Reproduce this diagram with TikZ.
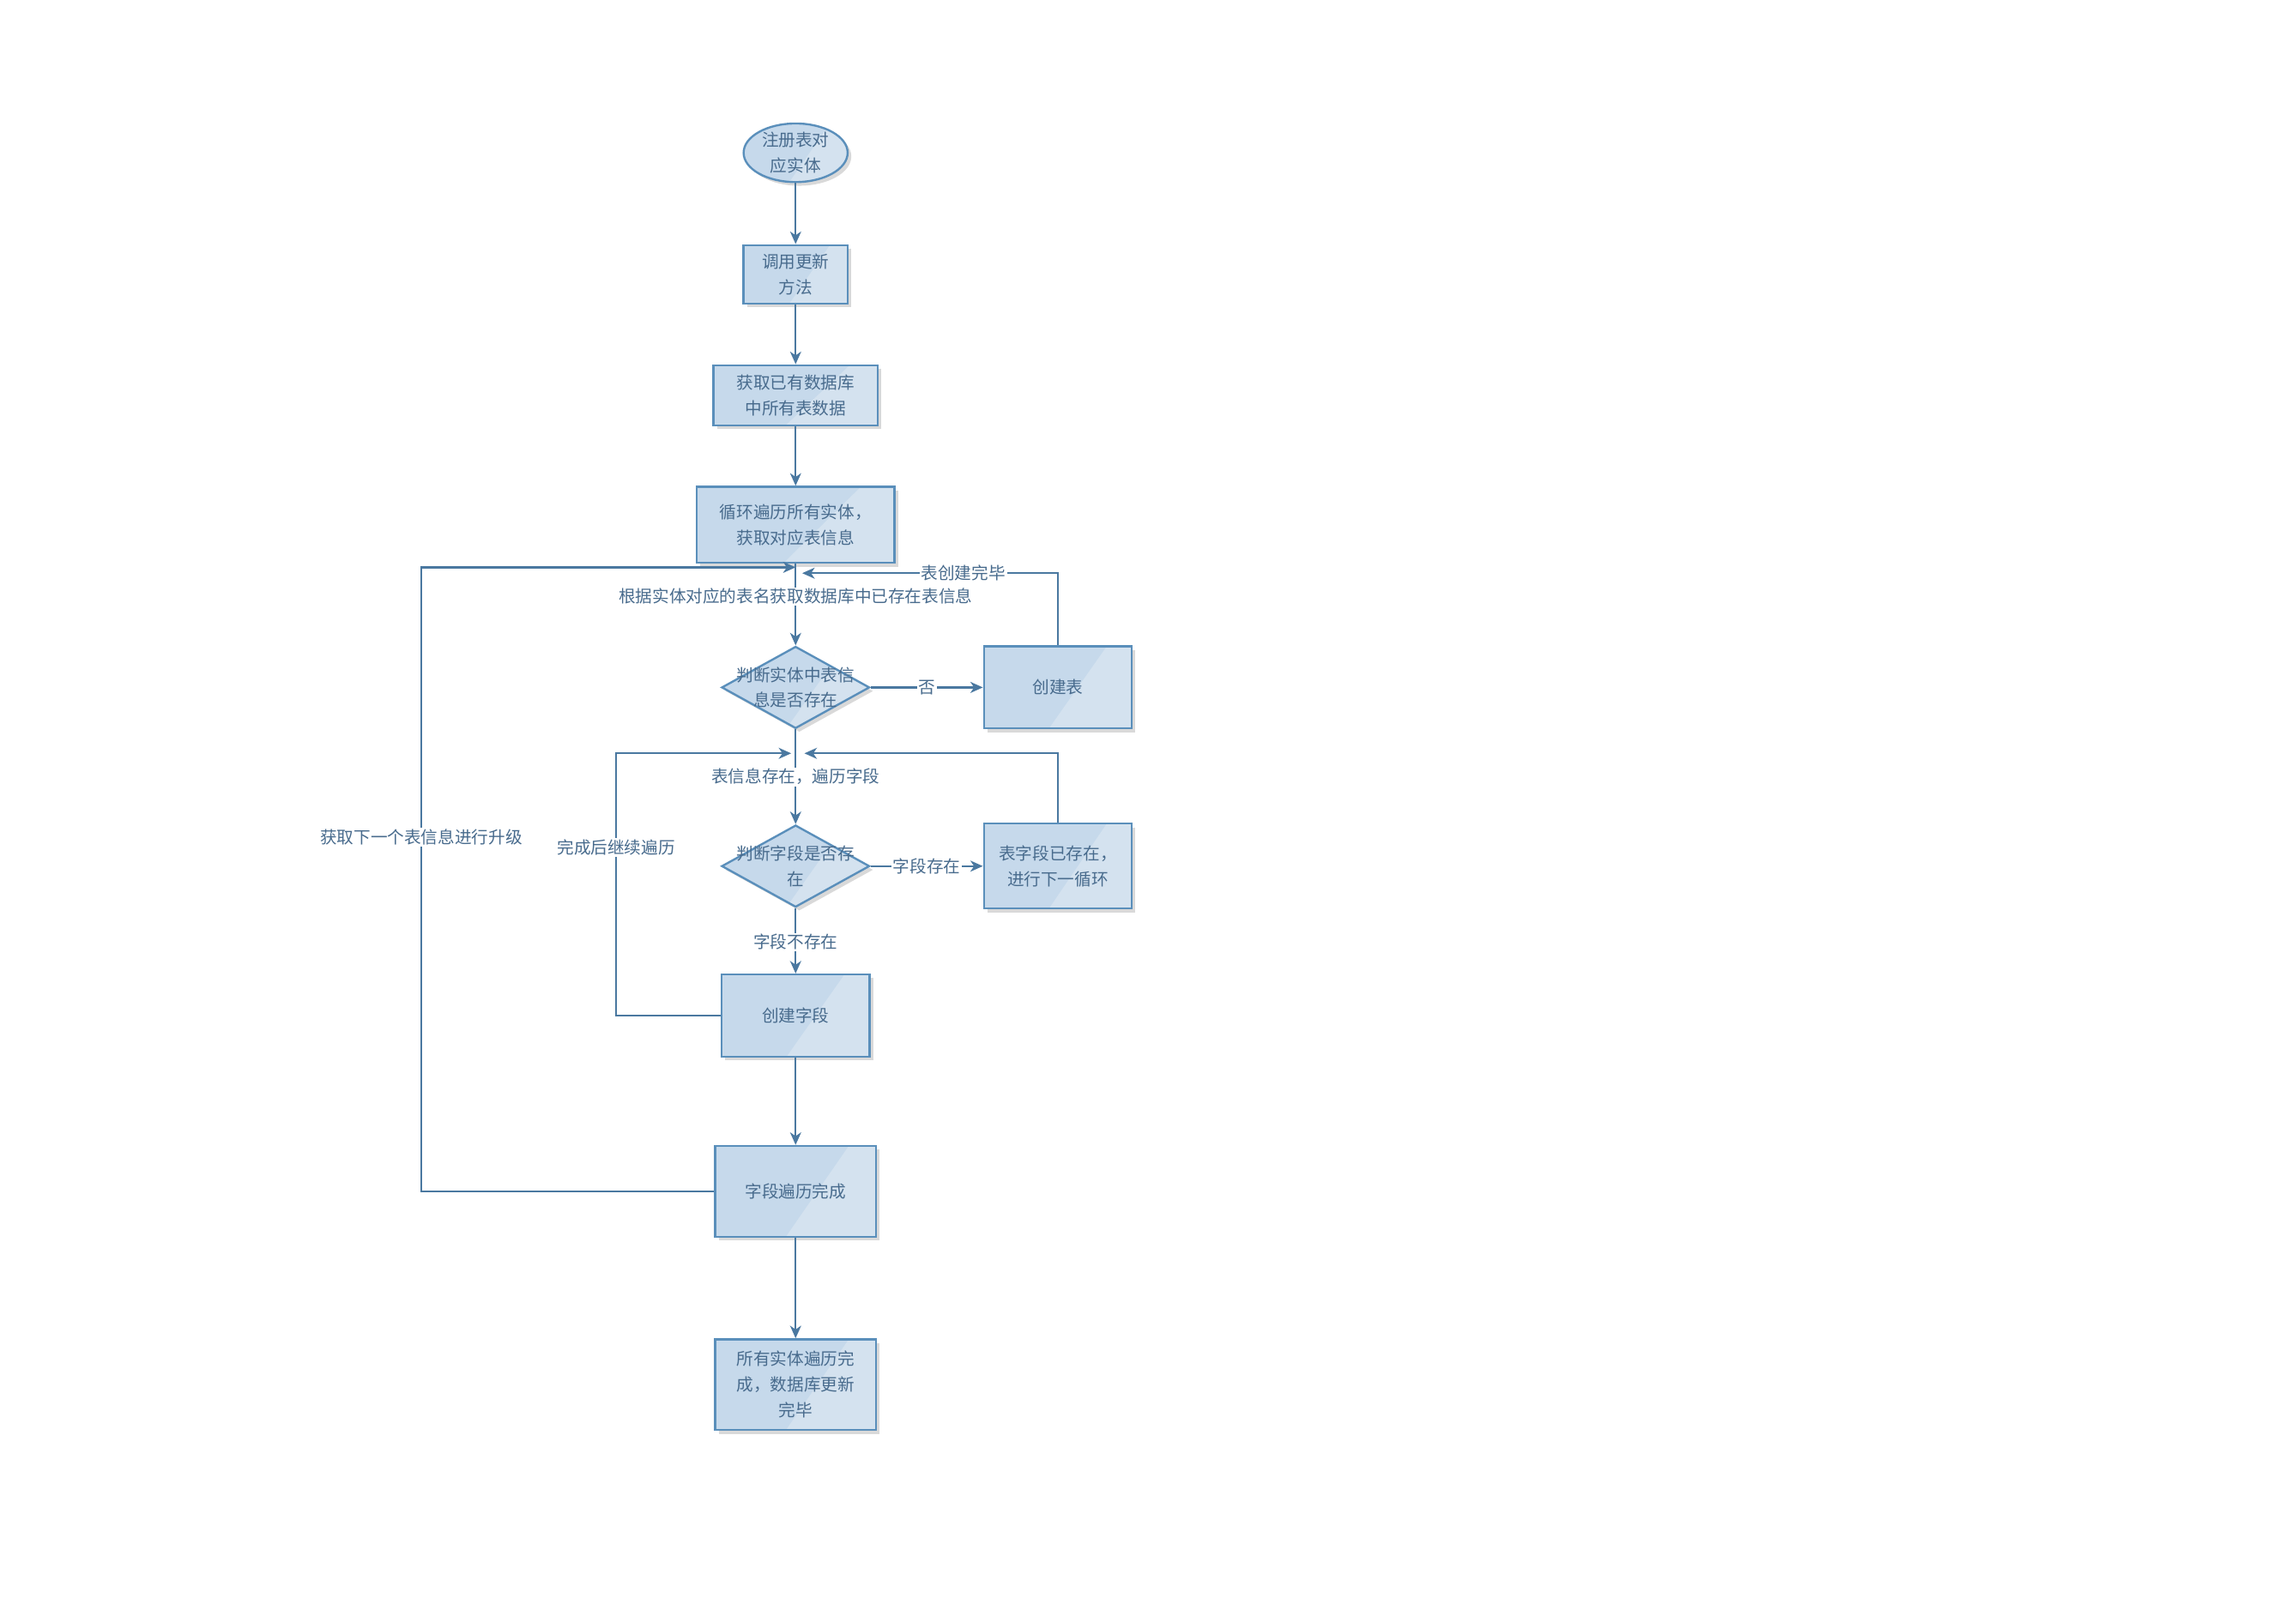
\documentclass[tikz,border=0pt]{standalone}
\usepackage{fontspec}
\newfontfamily\cjk{Noto Sans CJK SC}
\usetikzlibrary{shapes.geometric,arrows.meta,shadows,calc}
\definecolor{fillc}{HTML}{C6D9EB}
\definecolor{lightc}{HTML}{D4E2EF}
\definecolor{bordc}{HTML}{5A8FBB}
\definecolor{linec}{HTML}{4A78A0}
\definecolor{textc}{HTML}{486B8D}
\tikzset{
  gloss/.style={path picture={\fill[lightc]
      ($(path picture bounding box.north west)!0.83!(path picture bounding box.north east)$)
      -- (path picture bounding box.north east)
      -- (path picture bounding box.south east)
      -- ($(path picture bounding box.south west)!0.44!(path picture bounding box.south east)$)
      -- cycle;}},
  txt/.style={text=textc, font=\cjk\fontsize{11.5}{17.5}\selectfont, align=center},
  shape base/.style={draw=bordc, line width=1.4pt, fill=fillc, gloss,
      drop shadow={shadow xshift=2.5pt, shadow yshift=-2.5pt, fill=black!15, opacity=1},
      inner sep=0pt, txt},
  box/.style={shape base, rectangle},
  oval/.style={shape base, ellipse},
  decision/.style={shape base, diamond},
  lbl/.style={txt, fill=white, inner sep=1pt},
  arr/.style={draw=linec, line width=1.4pt, -{Stealth[length=8.5pt,width=7.5pt,inset=2.5pt]}},
}
\begin{document}
\begin{tikzpicture}[x=1pt,y=-1pt]
\useasboundingbox (0.5,-0.3) rectangle (1567.5,1106.7);

\node[oval, minimum width=71pt, minimum height=40pt] (e) at (543.5,104) {注册表对\\应实体};
\node[box, minimum width=71pt, minimum height=40pt] (b1) at (543.5,187) {调用更新\\方法};
\node[box, minimum width=112pt, minimum height=41pt] (b2) at (543.5,269.5) {获取已有数据库\\中所有表数据};
\node[box, minimum width=135pt, minimum height=52pt] (b3) at (543.5,358) {循环遍历所有实体，\\获取对应表信息};
\node[decision, minimum width=101pt, minimum height=56pt] (d1) at (543.5,469) {};
\node[txt] (d1t) at (d1.center) {判断实体中表信\\息是否存在};
\node[box, minimum width=101pt, minimum height=56pt] (b4) at (722.5,469) {创建表};
\node[decision, minimum width=101pt, minimum height=56pt] (d2) at (543.5,591) {};
\node[txt] (d2t) at (d2.center) {判断字段是否存\\在};
\node[box, minimum width=101pt, minimum height=58pt] (b6) at (722.5,591) {表字段已存在，\\进行下一循环};
\node[box, minimum width=101pt, minimum height=56pt] (b5) at (543.5,693) {创建字段};
\node[box, minimum width=110pt, minimum height=62pt] (b7) at (543.5,813) {字段遍历完成};
\node[box, minimum width=110pt, minimum height=62pt] (b8) at (543.5,945) {所有实体遍历完\\成，数据库更新\\完毕};

\coordinate (j1) at (543.5,387);
\coordinate (j2) at (548,391);
\coordinate (j3) at (540.5,514);
\coordinate (j4) at (549.5,514);
\coordinate (lx1) at (288,0);
\coordinate (lx2) at (421,0);

\draw[arr] (e) -- (b1);
\draw[arr] (b1) -- (b2);
\draw[arr] (b2) -- (b3);
\draw[arr] (b3) -- node[lbl, pos=0.4] {根据实体对应的表名获取数据库中已存在表信息} (d1);
\draw[arr] (d1) -- node[lbl, pos=0.5] {否} (b4);
\draw[arr] (b4.north) -- (b4.north |- j2) -- node[lbl, pos=0.37] {表创建完毕} (j2);
\draw[arr] (b7.west) -- (b7.west -| lx1) -- node[lbl, pos=0.568] {获取下一个表信息进行升级} (lx1 |- j1) -- (j1);
\draw[arr] (d1) -- node[lbl, pos=0.5] {表信息存在，遍历字段} (d2);
\draw[arr] (b5.west) -- (b5.west -| lx2) -- node[lbl, pos=0.642] {完成后继续遍历} (lx2 |- j3) -- (j3);
\draw[arr] (b6.north) -- (b6.north |- j4) -- (j4);
\draw[arr] (d2) -- node[lbl, pos=0.5] {字段存在} (b6);
\draw[arr] (d2) -- node[lbl, pos=0.52] {字段不存在} (b5);
\draw[arr] (b5) -- (b7);
\draw[arr] (b7) -- (b8);
\end{tikzpicture}
\end{document}
